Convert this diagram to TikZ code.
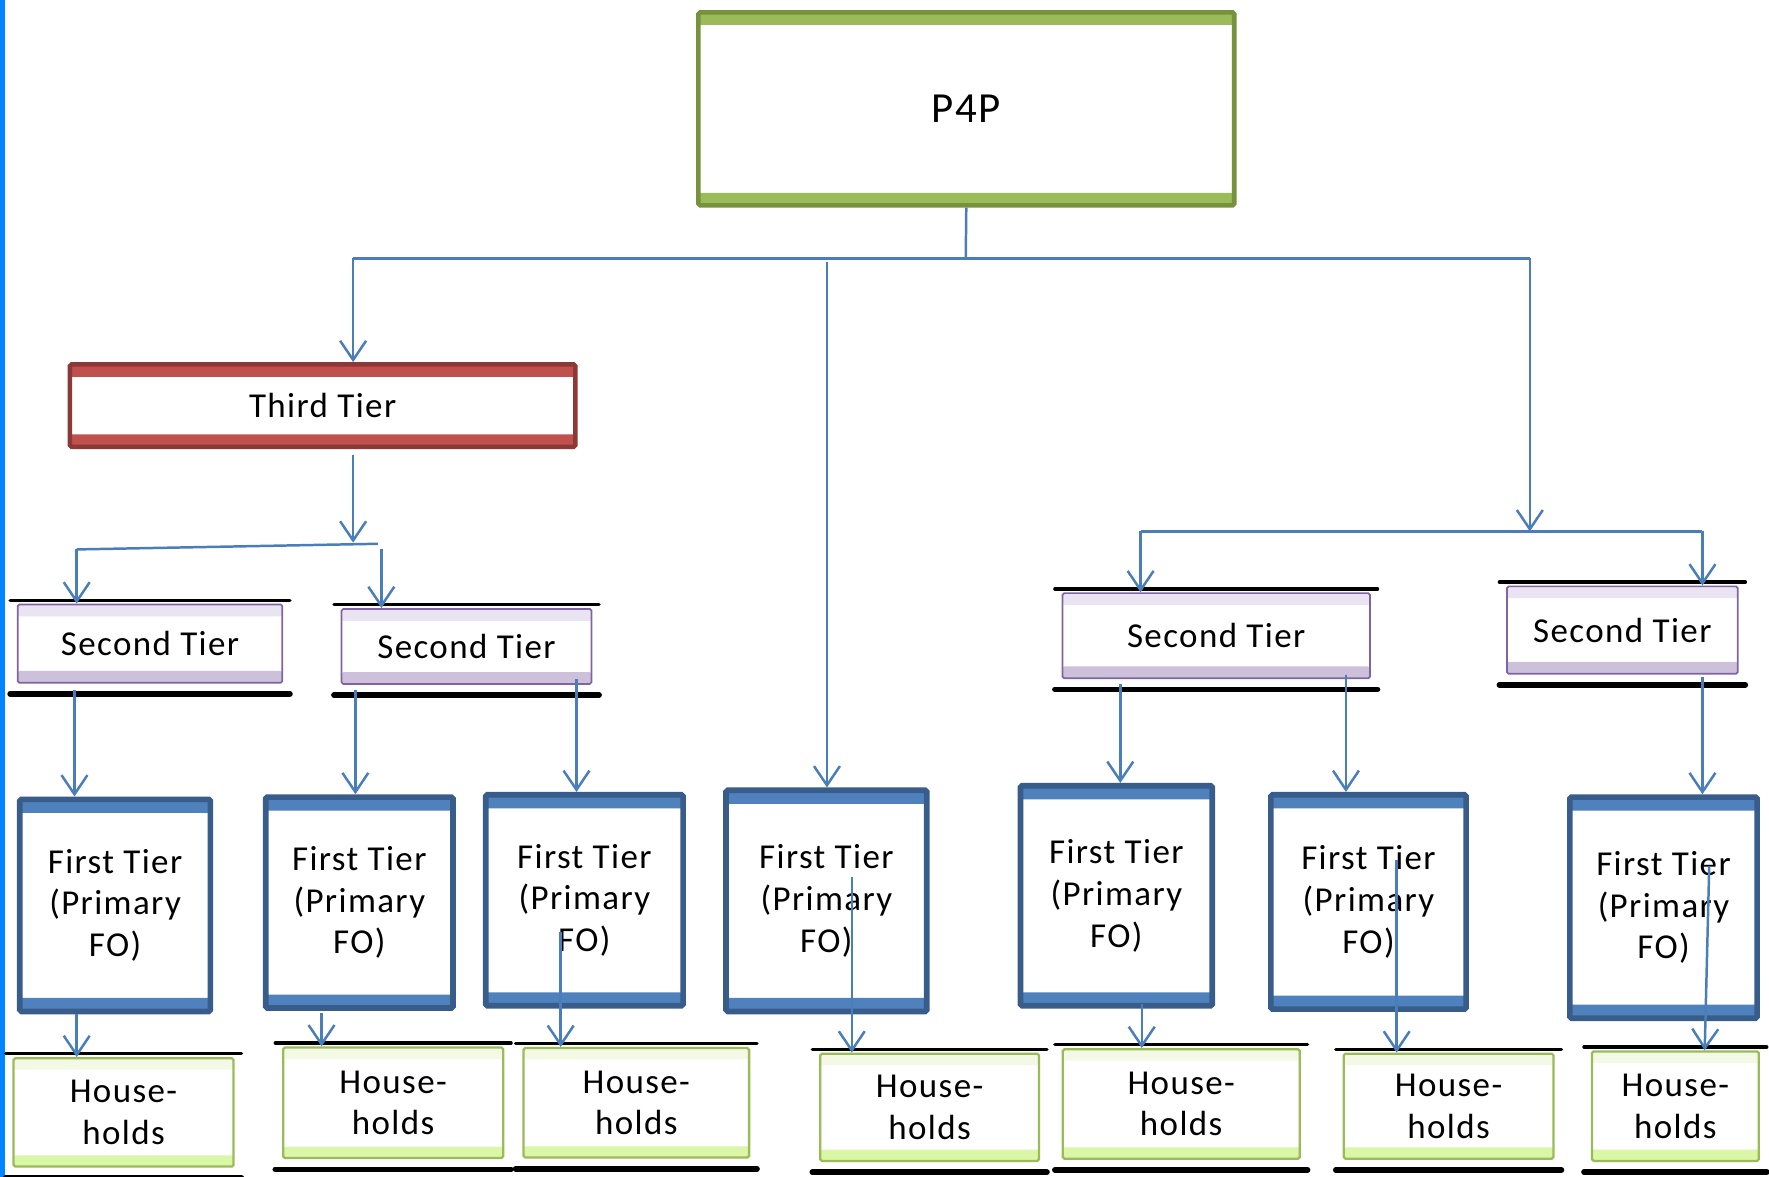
\documentclass[tikz,border=0pt]{standalone}
\usepackage{fontspec}
\newfontfamily\tierfont{Carlito}[LetterSpace=4]
\usetikzlibrary{
		arrows.meta,
		calc
	}
\definecolor{linkblue}{HTML}{4A7EBB}
\definecolor{edgebar}{RGB}{0,132,255}
\definecolor{greendark}{HTML}{76923C}
\definecolor{greenlight}{HTML}{9BBB59}
\definecolor{reddark}{HTML}{8C3836}
\definecolor{redlight}{HTML}{C0504D}
\definecolor{purpledark}{HTML}{8064A2}
\definecolor{purpletop}{HTML}{EAE4F2}
\definecolor{purplebot}{HTML}{CCC0DA}
\definecolor{bluedark}{HTML}{385D8A}
\definecolor{bluelight}{HTML}{4F81BD}
\definecolor{hhdark}{HTML}{9BBB59}
\definecolor{hhtop}{HTML}{F3F9E4}
\definecolor{hhbot}{HTML}{D9F7A6}
\tikzset{
		>={Straight Barb[length=17pt,width=23pt]},
		tierbox/.style={rectangle, rounded corners=1.5pt, inner sep=0pt,
			align=center, fill=white,
			font={\tierfont\fontsize{31}{37}\selectfont}},
		dims/.style 2 args={minimum width=#1pt, minimum height=#2pt},
		bands/.style n args={3}{path picture={
			\fill[#1] (path picture bounding box.north west) rectangle
				([yshift=-#3]path picture bounding box.north east);
			\fill[#2] (path picture bounding box.south west) rectangle
				([yshift=#3]path picture bounding box.south east);}},
		topbox/.style={tierbox, draw=greendark, line width=4pt,
			bands={greenlight}{greenlight}{11pt},
			font={\tierfont\fontsize{38}{42}\selectfont}},
		thirdbox/.style={tierbox, draw=reddark, line width=4pt,
			bands={redlight}{redlight}{11pt}},
		secondbox/.style={tierbox, draw=purpledark, line width=1.5pt,
			bands={purpletop}{purplebot}{10.5pt}},
		firstbox/.style={tierbox, draw=bluedark, line width=5pt,
			bands={bluelight}{bluelight}{12pt}},
		housebox/.style={tierbox, draw=hhdark, line width=2pt,
			bands={hhtop}{hhbot}{10pt}},
		link/.style={draw=linkblue, line width=2.2pt},
		shadowtop/.style={line width=3pt, line cap=round},
		shadowbot/.style={line width=5pt, line cap=round}
	}

\begin{document}
\begin{tikzpicture}[x=1pt, y=-1pt]
          \useasboundingbox (0,0) rectangle (1568,1043);
          \fill[edgebar] (0,0) rectangle (4,1043);

          % top and third tier
          \node[topbox, dims={475}{171}] (p4p) at (856.5,96.5) {P4P};
          \node[thirdbox, dims={448}{73}] (third) at (286,359.5) {Third Tier};

          % second tier
          \node[secondbox, dims={234.5}{69.5}] (st1) at (133,570.5) {Second Tier};
          \node[secondbox, dims={221.5}{66.5}] (st2) at (413.5,573) {Second Tier};
          \node[secondbox, dims={272.5}{75.5}] (st3) at (1078,563.5) {Second Tier};
          \node[secondbox, dims={204.5}{77.5}] (st4) at (1438,558.5) {Second Tier};

          % first tier
          \node[firstbox, dims={169}{188}] (ft1) at (102,802.5) {First Tier\\(Primary\\FO)};
          \node[firstbox, dims={166}{187}] (ft2) at (318.5,800) {First Tier\\(Primary\\FO)};
          \node[firstbox, dims={175}{187}] (ft3) at (518,798) {First Tier\\(Primary\\FO)};
          \node[firstbox, dims={178}{196}] (ft4) at (732.5,798.5) {First Tier\\(Primary\\FO)};
          \node[firstbox, dims={170}{195}] (ft5) at (989.5,794) {First Tier\\(Primary\\FO)};
          \node[firstbox, dims={173}{190}] (ft6) at (1213,799.5) {First Tier\\(Primary\\FO)};
          \node[firstbox, dims={166}{196}] (ft7) at (1474.5,804.5) {First Tier\\(Primary\\FO)};

          % households
          \node[housebox, dims={195}{96}] (hh1) at (109.5,986) {House-\\holds};
          \node[housebox, dims={195}{98}] (hh2) at (348.5,977.5) {House-\\holds};
          \node[housebox, dims={200}{97}] (hh3) at (564,977.5) {House-\\holds};
          \node[housebox, dims={194}{95}] (hh4) at (824,981.5) {House-\\holds};
          \node[housebox, dims={210}{97}] (hh5) at (1047,978.5) {House-\\holds};
          \node[housebox, dims={186}{93}] (hh6) at (1284,980.5) {House-\\holds};
          \node[housebox, dims={148}{97}] (hh7) at (1485,980.5) {House-\\holds};

          \foreach \n in {st1,st2,st3,st4,hh1,hh2,hh3,hh4,hh5,hh6,hh7}{
            \draw[shadowtop] ([xshift=-6pt,yshift=3pt]\n.north west) -- ([xshift=6pt,yshift=3pt]\n.north east);
            \draw[shadowbot] ([xshift=-6pt,yshift=-9pt]\n.south west) -- ([xshift=6pt,yshift=-9pt]\n.south east);
          }

          % trunk from the top
          \coordinate (hub) at (856,229);
          \coordinate (jl) at (313,229);
          \coordinate (jr) at (1356,229);
          \coordinate (jm) at (733,232);
          \draw[link] (p4p.south) -- (hub);
          \draw[link] (jl) -- (jr);
          \draw[link,->] (jl) -- (jl |- third.north);
          \draw[link,->] (jm) -- (jm |- ft4.north);

          % right branch
          \coordinate (kr) at (1356,471);
          \coordinate (kr1) at (1011,471);
          \coordinate (kr2) at (1509,471);
          \draw[link,->] (jr) -- (kr);
          \draw[link] (kr1) -- (kr2);
          \draw[link,->] (kr1) -- (kr1 |- st3.north);
          \draw[link,->] (kr2) -- (kr2 |- st4.north);

          % left branch
          \coordinate (t0) at (313,403);
          \coordinate (t1) at (313,481);
          \coordinate (kl1) at (68,487);
          \coordinate (kl2) at (335,482);
          \coordinate (kl3) at (338,487);
          \draw[link,->] (t0) -- (t1);
          \draw[link] (kl1) -- (kl2);
          \draw[link,->] (kl1) -- (kl1 |- st1.north);
          \draw[link,->] (kl3) -- (kl3 |- st2.north);

          % second tier to first tier
          \foreach \sx/\sy/\tgt in {66/612/ft1, 315/612/ft2, 511/602/ft3,
              993/606/ft5, 1193/598/ft6, 1509/600/ft7}{
            \coordinate (src) at (\sx,\sy);
            \draw[link,->] (src) -- (src |- \tgt.north);
          }

          % first tier to households
          \foreach \sx/\sy/\tgt in {68/899/hh1, 285/898/hh2, 497/826/hh3,
              755/777/hh4, 1012/890/hh5, 1238/762/hh6}{
            \coordinate (src) at (\sx,\sy);
            \draw[link,->] (src) -- (src |- \tgt.north);
          }
          \coordinate (src7) at (1515,768);
          \draw[link,->] (src7) -- ([xshift=-4pt]src7 |- hh7.north);

          \end{tikzpicture}
\end{document}
